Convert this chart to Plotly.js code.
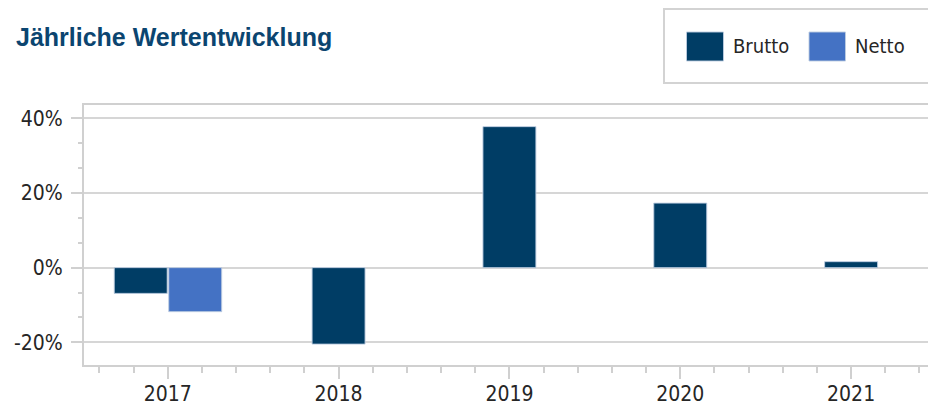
<!DOCTYPE html>
<html>
<head>
<meta charset="utf-8">
<script src="https://cdn.plot.ly/plotly-3.0.1.min.js"></script>
<style>html,body{margin:0;padding:0;background:#fff;}#chart{width:928px;height:406px;}</style>
</head>
<body>
<div id="chart"></div>
<script>
var years = [2017, 2018, 2019, 2020, 2021];
var brutto = [-6.9, -20.5, 37.8, 17.3, 1.6];
var nettoYears = [2017];
var netto = [-11.8];
var seriesNames = ['Brutto', 'Netto'];
var yTickVals = [-20, 0, 20, 40];
var yTickText = ['-20%', '0%', '20%', '40%'];
var titleText = 'Jährliche Wertentwicklung';

var cBrutto = '#003d65';
var cNetto = '#4472c4';
var tickFont = {family: 'DejaVu Sans Condensed, DejaVu Sans, sans-serif', size: 21, color: '#262626'};

var W = 928, H = 406, L = 84, R = 0, T = 105, B = 41;
function px(x){ return (x - L) / (W - L - R); }
function py(y){ return (H - B - y) / (H - T - B); }

var bw = 0.31;
var traces = [
  {type: 'bar', name: seriesNames[0], x: years, y: brutto,
   width: bw, offset: years.map(function(v){ return v === nettoYears[0] ? -bw - 0.003 : -bw/2; }),
   marker: {color: cBrutto, line: {color: 'rgba(190,205,225,0.9)', width: 1}},
   showlegend: false, hoverinfo: 'none'},
  {type: 'bar', name: seriesNames[1], x: nettoYears, y: netto,
   width: bw, offset: 0.006,
   marker: {color: cNetto, line: {color: 'rgba(190,205,225,0.9)', width: 1}},
   showlegend: false, hoverinfo: 'none'}
];

var legendShapes = [
  {type: 'rect', xref: 'paper', yref: 'paper', x0: px(664), x1: px(940), y0: py(83), y1: py(9),
   line: {color: '#d3d3d3', width: 2}, fillcolor: 'rgba(0,0,0,0)', layer: 'above'},
  {type: 'rect', xref: 'paper', yref: 'paper', x0: px(686.5), x1: px(723.5), y0: py(61), y1: py(32),
   line: {color: 'rgba(190,205,225,0.9)', width: 1}, fillcolor: cBrutto},
  {type: 'rect', xref: 'paper', yref: 'paper', x0: px(809), x1: px(845.5), y0: py(61), y1: py(32),
   line: {color: 'rgba(190,205,225,0.9)', width: 1}, fillcolor: cNetto}
];
var legendFont = {family: 'DejaVu Sans Condensed, DejaVu Sans, sans-serif', size: 20, color: '#262626'};
var legendAnn = [
  {xref: 'paper', yref: 'paper', x: px(731), y: py(46.5), xanchor: 'left', yanchor: 'middle',
   text: seriesNames[0], showarrow: false, font: legendFont},
  {xref: 'paper', yref: 'paper', x: px(853), y: py(46.5), xanchor: 'left', yanchor: 'middle',
   text: seriesNames[1], showarrow: false, font: legendFont}
];

var layout = {
  width: W, height: H,
  margin: {l: L, r: R, t: T, b: B, pad: 0},
  paper_bgcolor: '#fff', plot_bgcolor: '#fff',
  barmode: 'overlay',
  title: {text: titleText, x: 16/W, xanchor: 'left', xref: 'container', yref: 'container',
          y: 1 - 37/H, yanchor: 'middle',
          font: {family: 'Liberation Sans, Arial, sans-serif', size: 25, weight: 'bold', color: '#0b4570'}},
  xaxis: {
    type: 'linear', range: [2017 - 0.49, 2021 + 0.45],
    tickvals: years, ticktext: years.map(String),
    ticks: 'outside', ticklen: 12, tickwidth: 2, tickcolor: '#d0d0d0',
    showgrid: false, zeroline: false,
    showline: true, linecolor: '#d0d0d0', linewidth: 2, mirror: true,
    tickfont: tickFont, ticklabelstandoff: -3,
    minor: {tick0: 2017, dtick: 0.2, ticks: 'outside', ticklen: 6, tickwidth: 2, tickcolor: '#d0d0d0', showgrid: false},
    fixedrange: true
  },
  yaxis: {
    range: [-26.1, 43.6],
    tickvals: yTickVals, ticktext: yTickText,
    ticks: 'outside', ticklen: 11, tickwidth: 2, tickcolor: '#d0d0d0',
    showgrid: true, gridcolor: '#d6d6d6', gridwidth: 2,
    zeroline: false,
    showline: true, linecolor: '#d0d0d0', linewidth: 2,
    tickfont: tickFont, ticklabelstandoff: 4,
    minor: {tick0: 0, dtick: 20/3, ticks: 'outside', ticklen: 4, tickwidth: 2, tickcolor: '#d0d0d0', showgrid: false},
    fixedrange: true
  },
  shapes: legendShapes,
  annotations: legendAnn
};

Plotly.newPlot('chart', traces, layout, {staticPlot: true, displayModeBar: false});
</script>
</body>
</html>
